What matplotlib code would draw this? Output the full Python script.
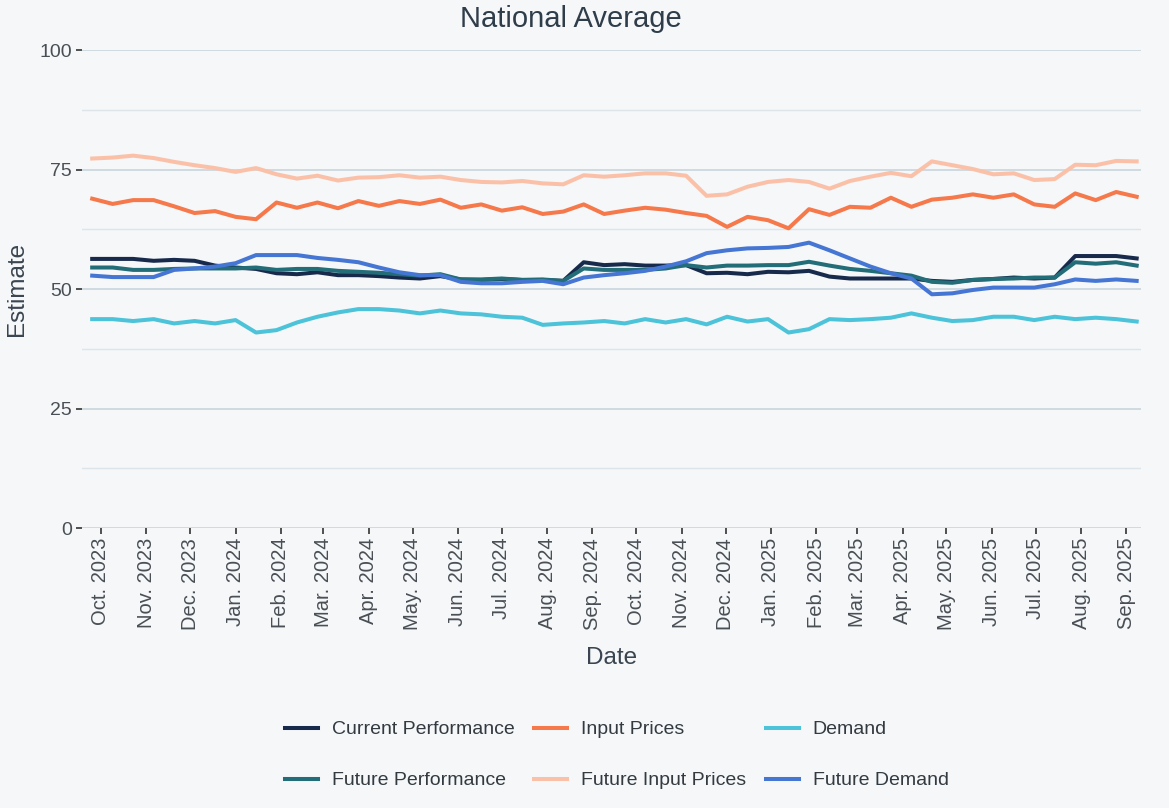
import pandas as pd
import matplotlib.pyplot as plt
import matplotlib.dates as mdates
from matplotlib.ticker import MultipleLocator

plt.rcParams['font.family'] = ['Liberation Sans', 'DejaVu Sans']

# Biweekly survey dates (52 readings)
dates = pd.date_range('2023-09-25', periods=52, freq='14D')

current_performance = [
    56.3, 56.3, 56.3, 55.9, 56.1, 55.9, 54.9, 54.5, 54.2, 53.3,
    53.1, 53.5, 52.9, 52.9, 52.7, 52.4, 52.2, 52.7, 52.0, 51.9,
    52.1, 51.9, 51.9, 51.7, 55.6, 55.0, 55.2, 54.9, 54.9, 55.0,
    53.3, 53.4, 53.1, 53.6, 53.5, 53.8, 52.6, 52.2, 52.2, 52.2,
    52.2, 51.7, 51.5, 51.9, 52.1, 52.4, 52.2, 52.4, 56.9, 56.9,
    56.9, 56.4]
future_performance = [
    54.5, 54.5, 54.0, 54.0, 54.2, 54.3, 54.3, 54.3, 54.5, 54.0,
    54.2, 54.2, 53.8, 53.6, 53.4, 53.1, 52.8, 53.1, 52.0, 52.0,
    52.2, 51.9, 52.0, 51.7, 54.3, 54.0, 54.0, 54.0, 54.3, 55.0,
    54.5, 54.9, 54.9, 55.0, 55.0, 55.7, 54.9, 54.2, 53.8, 53.3,
    52.8, 51.5, 51.3, 51.9, 52.1, 52.2, 52.4, 52.4, 55.6, 55.3,
    55.6, 54.9]
input_prices = [
    68.9, 67.8, 68.6, 68.6, 67.3, 65.9, 66.3, 65.1, 64.6, 68.1,
    67.0, 68.1, 66.9, 68.4, 67.4, 68.4, 67.8, 68.7, 67.0, 67.7,
    66.4, 67.1, 65.7, 66.2, 67.7, 65.7, 66.4, 67.0, 66.6, 65.9,
    65.3, 63.0, 65.1, 64.4, 62.7, 66.7, 65.5, 67.2, 67.0, 69.1,
    67.2, 68.7, 69.1, 69.8, 69.1, 69.8, 67.7, 67.2, 70.0, 68.6,
    70.3, 69.3]
future_input_prices = [
    77.3, 77.5, 77.9, 77.4, 76.6, 75.9, 75.3, 74.5, 75.3, 74.0,
    73.1, 73.7, 72.7, 73.3, 73.4, 73.8, 73.3, 73.5, 72.8, 72.4,
    72.3, 72.6, 72.1, 71.9, 73.8, 73.5, 73.8, 74.2, 74.2, 73.7,
    69.5, 69.8, 71.4, 72.4, 72.8, 72.4, 71.0, 72.6, 73.5, 74.3,
    73.6, 76.7, 75.9, 75.1, 74.0, 74.2, 72.8, 73.0, 76.0, 75.9,
    76.8, 76.7]
demand = [
    43.7, 43.7, 43.3, 43.7, 42.8, 43.3, 42.8, 43.5, 40.9, 41.4,
    43.0, 44.2, 45.1, 45.8, 45.8, 45.5, 44.9, 45.5, 44.9, 44.7,
    44.2, 44.0, 42.5, 42.8, 43.0, 43.3, 42.8, 43.7, 43.0, 43.7,
    42.6, 44.2, 43.2, 43.7, 40.9, 41.6, 43.7, 43.5, 43.7, 44.0,
    44.9, 44.0, 43.3, 43.5, 44.2, 44.2, 43.5, 44.2, 43.7, 44.0,
    43.7, 43.2]
future_demand = [
    52.8, 52.5, 52.5, 52.5, 54.0, 54.3, 54.7, 55.4, 57.1, 57.1,
    57.1, 56.5, 56.1, 55.6, 54.5, 53.5, 52.9, 52.9, 51.5, 51.2,
    51.2, 51.5, 51.7, 51.0, 52.4, 52.9, 53.3, 53.8, 54.7, 55.8,
    57.5, 58.1, 58.5, 58.6, 58.8, 59.7, 58.1, 56.4, 54.7, 53.3,
    52.2, 48.9, 49.1, 49.8, 50.3, 50.3, 50.3, 51.0, 52.0, 51.7,
    52.0, 51.7]

series = [
    ('Current Performance', current_performance, '#182a4c'),
    ('Future Performance', future_performance, '#226d77'),
    ('Input Prices', input_prices, '#f5794b'),
    ('Future Input Prices', future_input_prices, '#fbc1a8'),
    ('Demand', demand, '#4cc3d8'),
    ('Future Demand', future_demand, '#4676d3'),
]

bg = '#f5f7f9'
fig = plt.figure(figsize=(11.69, 8.08), dpi=100, facecolor=bg)
ax = fig.add_axes([0.0701, 0.3465, 0.906, 0.5916], facecolor=bg)

for name, vals, color in series:
    ax.plot(dates, vals, color=color, linewidth=2.9, label=name,
            solid_joinstyle='round')

ax.set_ylim(0, 100)
ax.set_xlim(pd.Timestamp('2023-09-18'), pd.Timestamp('2025-09-11'))

ax.yaxis.set_major_locator(MultipleLocator(25))
ax.yaxis.set_minor_locator(MultipleLocator(12.5))
ax.grid(which='major', axis='y', color='#cdd8df', linewidth=1.3)
ax.grid(which='minor', axis='y', color='#dde5ea', linewidth=1.0)
ax.grid(False, axis='x')
ax.set_axisbelow(True)

ax.xaxis.set_major_locator(mdates.MonthLocator())
ax.xaxis.set_major_formatter(mdates.DateFormatter('%b. %Y'))
plt.setp(ax.get_xticklabels(), rotation=90)

for s in ax.spines.values():
    s.set_visible(False)
ax.tick_params(axis='both', which='major', length=4, width=1.2, color='#333333',
               labelsize=14, labelcolor='#4a4f55', pad=3)
ax.tick_params(axis='x', labelsize=14.5)
ax.tick_params(axis='y', which='minor', length=0)

ax.set_xlabel('Date', fontsize=17.5, color='#3a4550', labelpad=12)
ax.set_ylabel('Estimate', fontsize=17.5, color='#3a4550', labelpad=8)
fig.text(0.488, 0.977, 'National Average', ha='center', va='center',
         fontsize=21, color='#2f3d4a')

leg = ax.legend(loc='center', bbox_to_anchor=(0.505, -0.475), ncol=3,
                frameon=False, fontsize=14, handlelength=1.7,
                columnspacing=1.0, labelspacing=1.72, handletextpad=0.72)
for t in leg.get_texts():
    t.set_color('#333a40')

fig.savefig('out.png', dpi=100, facecolor=bg)
